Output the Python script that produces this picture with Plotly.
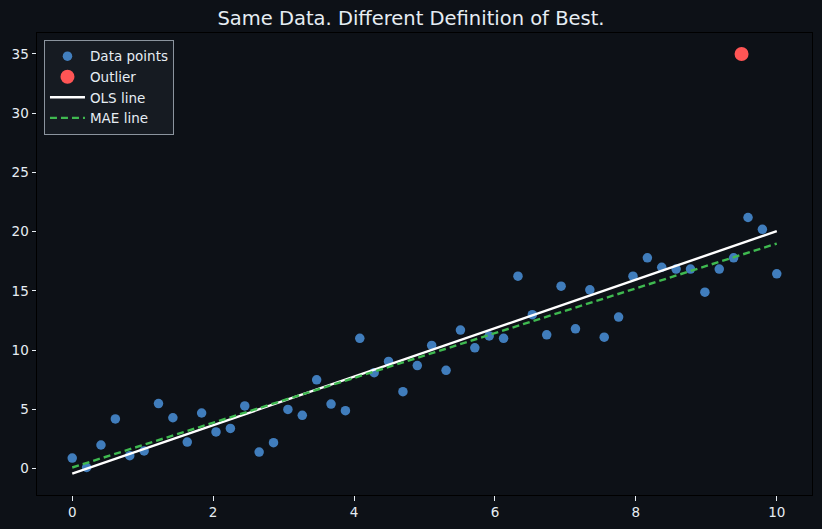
import numpy as np
import plotly.graph_objects as go

# ---- data ----
x_points = np.linspace(0, 10, 50).tolist()
y_points = [0.9, 0.1, 2.0, 4.2, 1.1, 1.5, 5.5, 4.3, 2.25, 4.7,
            3.1, 3.4, 5.3, 1.4, 2.2, 5.0, 4.5, 7.5, 5.45, 4.9,
            11.0, 8.1, 9.05, 6.5, 8.7, 10.4, 8.3, 11.7, 10.2, 11.2,
            11.0, 16.25, 13.0, 11.3, 15.4, 11.8, 15.1, 11.1, 12.8, 16.25,
            17.8, 17.0, 16.85, 16.85, 14.9, 16.85, 17.8, 21.2, 20.2, 16.45]
outlier_x = [9.5]
outlier_y = [35.0]
line_x = [0.0, 10.0]
ols_y = [-0.42, 20.05]
mae_y = [0.1, 19.0]

BG = "#0d1117"
TXT = "#e6edf3"
FONT = "DejaVu Sans"

fig = go.Figure()
fig.add_trace(go.Scatter(x=x_points, y=y_points, mode="markers", name="Data points",
                         marker=dict(size=9.5, color="rgba(74,144,217,0.85)", line=dict(width=0))))
fig.add_trace(go.Scatter(x=outlier_x, y=outlier_y, mode="markers", name="Outlier",
                         marker=dict(size=14, color="#ff5555", line=dict(width=0))))
fig.add_trace(go.Scatter(x=line_x, y=ols_y, mode="lines", name="OLS line",
                         line=dict(color="#ffffff", width=2.4)))
fig.add_trace(go.Scatter(x=line_x, y=mae_y, mode="lines", name="MAE line",
                         line=dict(color="#3fb950", width=2.4, dash="7px,4px")))

axis_common = dict(showgrid=False, zeroline=False, showline=True, mirror=True,
                   linecolor="#000000", linewidth=1, ticks="outside", ticklen=4.5,
                   tickcolor=TXT, tickwidth=1,
                   tickfont=dict(color=TXT, size=13.5, family=FONT))
fig.update_xaxes(range=[-0.5, 10.5], tickvals=[0, 2, 4, 6, 8, 10], **axis_common)
fig.update_yaxes(range=[-2.22, 36.77], tickvals=[0, 5, 10, 15, 20, 25, 30, 35], **axis_common)

fig.update_layout(
    width=822, height=529,
    paper_bgcolor=BG, plot_bgcolor=BG,
    margin=dict(l=37, r=10, t=33, b=34),
    title=dict(text="Same Data. Different Definition of Best.", x=0.5, xanchor="center",
               y=1 - 18 / 529, yanchor="middle",
               font=dict(color=TXT, size=19.5, family=FONT)),
    legend=dict(x=0.009, y=0.985, xanchor="left", yanchor="top",
                bgcolor="#161b22", bordercolor="#8b949e", borderwidth=1,
                font=dict(color=TXT, size=13.5, family=FONT),
                tracegroupgap=0, itemsizing="trace", itemwidth=35),
    showlegend=True,
)

fig.write_html("out.html")
